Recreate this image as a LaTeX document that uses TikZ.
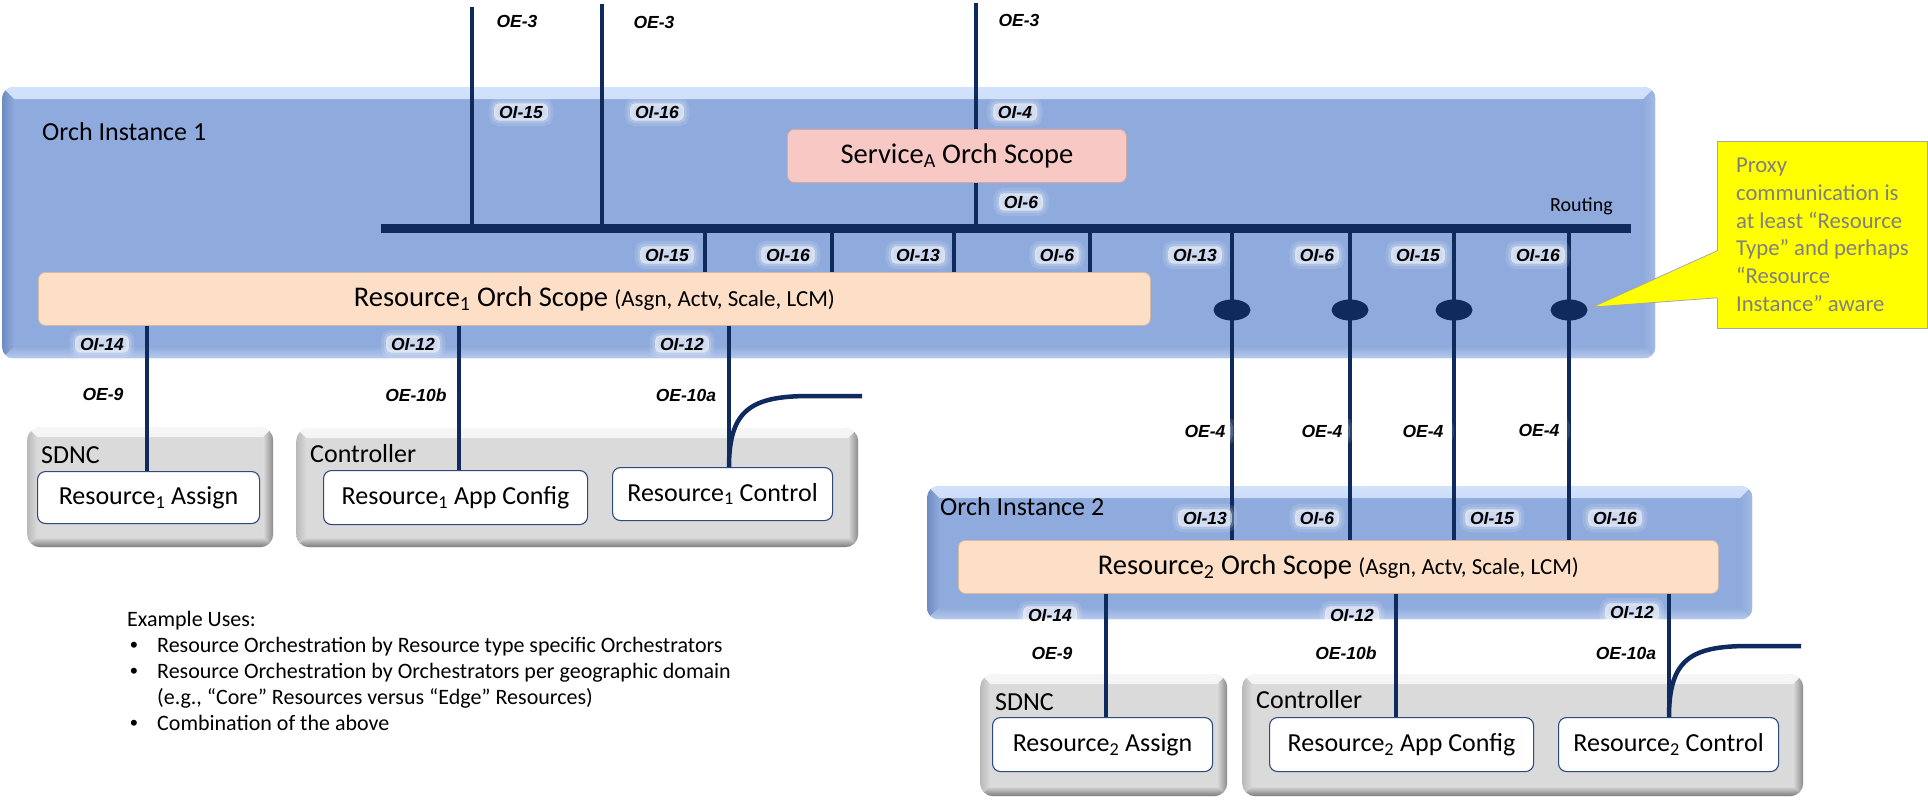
\documentclass[tikz,border=0pt]{standalone}
\usepackage{fontspec}
\setmainfont{Carlito}
\newfontfamily\ifacefont{Liberation Sans}
\usetikzlibrary{shapes.geometric,calc}

\definecolor{navy}{HTML}{0F2A5C}
\definecolor{orchface}{HTML}{8FAADC}
\definecolor{orchhi}{HTML}{D2E2FB}
\definecolor{orchlo}{HTML}{6E8BC2}
\definecolor{orchrt}{HTML}{A3BAE5}
\definecolor{orchbt}{HTML}{B7CAEE}
\definecolor{peach}{HTML}{FDDFC8}
\definecolor{peachrim}{HTML}{D6B9A3}
\definecolor{pinkface}{HTML}{F8C9C4}
\definecolor{pinkrim}{HTML}{D8AAA5}
\definecolor{grayface}{HTML}{DBDADB}
\definecolor{grayhi}{HTML}{F6F6F6}
\definecolor{graylt}{HTML}{B9B9B9}
\definecolor{graydk}{HTML}{8A8A8A}
\definecolor{graybt}{HTML}{7A7A7A}
\definecolor{boxrim}{HTML}{2E4A7D}
\definecolor{notetext}{HTML}{808080}
\definecolor{noterim}{HTML}{A6A6A6}
\definecolor{noteyellow}{HTML}{FFFF00}

% four bevelled edges inside the bounding box of a node
\newcommand\bevelfill[6]{%
  \path[sharp corners, top color=#2, bottom color=#6]
    (path picture bounding box.north west) -- (path picture bounding box.north east)
    -- ([xshift=-#1,yshift=-#1]path picture bounding box.north east)
    -- ([xshift=#1,yshift=-#1]path picture bounding box.north west) -- cycle;
  \path[sharp corners, left color=#3, right color=#6]
    (path picture bounding box.north west)
    -- ([xshift=#1,yshift=-#1]path picture bounding box.north west)
    -- ([xshift=#1,yshift=#1]path picture bounding box.south west)
    -- (path picture bounding box.south west) -- cycle;
  \path[sharp corners, right color=#4, left color=#6]
    (path picture bounding box.north east)
    -- ([xshift=-#1,yshift=-#1]path picture bounding box.north east)
    -- ([xshift=-#1,yshift=#1]path picture bounding box.south east)
    -- (path picture bounding box.south east) -- cycle;
  \path[sharp corners, bottom color=#5, top color=#6]
    (path picture bounding box.south west)
    -- ([xshift=#1,yshift=#1]path picture bounding box.south west)
    -- ([xshift=-#1,yshift=#1]path picture bounding box.south east)
    -- (path picture bounding box.south east) -- cycle;
}

% bullet used in the list of example uses
\newcommand\usebullet{\makebox[27pt][l]{\ifacefont\textbullet}}

\tikzset{
  orchbox/.style={anchor=north west, inner sep=0pt, fill=orchface, rounded corners=11pt,
    path picture={\bevelfill{12pt}{orchhi}{orchlo}{orchrt}{orchbt}{orchface}}},
  hostbox/.style={anchor=north west, inner sep=0pt, fill=grayface, rounded corners=13pt,
    path picture={\bevelfill{10pt}{grayhi}{graylt}{graydk}{graybt}{grayface}}},
  fnbox/.style={anchor=north west, inner sep=0pt, fill=white, draw=boxrim, line width=1.1pt,
    rounded corners=8pt, font=\fontsize{26}{31}\selectfont},
  scopebox/.style={anchor=north west, inner sep=0pt, fill=peach, draw=peachrim, line width=0.8pt,
    rounded corners=7pt, font=\fontsize{28.5}{34}\selectfont},
  title/.style={anchor=base west, inner sep=0pt, font=\fontsize{26}{31}\selectfont},
  uses/.style={anchor=base west, inner sep=0pt, font=\fontsize{22}{26}\selectfont},
  wire/.style={draw=navy, line width=4pt},
  tap/.style={ellipse, fill=navy, minimum width=37pt, minimum height=21pt, inner sep=0pt},
  ilbl/.style={font=\ifacefont\bfseries\itshape\fontsize{17.5}{20}\selectfont, text=black,
    fill=white, fill opacity=0.35, text opacity=1, inner xsep=5pt, inner ysep=2.5pt,
    rounded corners=5pt,
    preaction={fill=white, fill opacity=0.12, draw=white, draw opacity=0.12, line width=11pt},
    preaction={fill=white, fill opacity=0.18, draw=white, draw opacity=0.18, line width=5pt}},
  notebox/.style={anchor=north west, fill=noteyellow, draw=noterim, line width=0.8pt,
    inner sep=0pt, text=notetext, align=left, font=\fontsize{22.7}{27.7}\selectfont},
}

\begin{document}
\begin{tikzpicture}[x=1pt,y=-1pt]
\useasboundingbox (0,0) rectangle (1928,801);

% orchestrator instances
\node[orchbox, minimum width=1653pt, minimum height=271pt] (oi1) at (2,87) {};
\node[orchbox, minimum width=825pt, minimum height=133pt] (oi2) at (927,486) {};
\node[title] (oi1t) at (42,140) {Orch Instance 1};
\node[title] (oi2t) at (940,515) {Orch Instance 2};

% controller hosts
\node[hostbox, minimum width=246pt, minimum height=120pt] (sdnc1) at (27,427) {};
\node[hostbox, minimum width=562pt, minimum height=119pt] (ctl1) at (296,428) {};
\node[hostbox, minimum width=247pt, minimum height=122pt] (sdnc2) at (980,674) {};
\node[hostbox, minimum width=561pt, minimum height=122pt] (ctl2) at (1242,674) {};
\node[title] (sdnc1t) at (41,463) {SDNC};
\node[title] (ctl1t) at (310,462) {Controller};
\node[title] (sdnc2t) at (995,710) {SDNC};
\node[title] (ctl2t) at (1256,708) {Controller};

% resource functions
\node[fnbox, minimum width=222pt, minimum height=52pt] (asg1) at (37,471) {Resource\textsubscript{1} Assign};
\node[fnbox, minimum width=264pt, minimum height=54pt] (cfg1) at (323,470) {Resource\textsubscript{1} App Config};
\node[fnbox, minimum width=220pt, minimum height=53pt] (ctr1) at (612,467) {Resource\textsubscript{1} Control};
\node[fnbox, minimum width=220pt, minimum height=54pt] (asg2) at (992,717) {Resource\textsubscript{2} Assign};
\node[fnbox, minimum width=264pt, minimum height=54pt] (cfg2) at (1269,717) {Resource\textsubscript{2} App Config};
\node[fnbox, minimum width=220pt, minimum height=54pt] (ctr2) at (1558,717) {Resource\textsubscript{2} Control};

% orchestration scopes
\node[scopebox, fill=pinkface, draw=pinkrim, minimum width=339pt, minimum height=53pt] (svc) at (787,129)
  {Service\textsubscript{A} Orch Scope};
\node[scopebox, minimum width=1112pt, minimum height=53pt] (r1) at (38,272)
  {Resource\textsubscript{1} Orch Scope {\fontsize{23}{28}\selectfont(Asgn, Actv, Scale, LCM)}};
\node[scopebox, minimum width=760pt, minimum height=53pt] (r2) at (958,540)
  {Resource\textsubscript{2} Orch Scope {\fontsize{23}{28}\selectfont(Asgn, Actv, Scale, LCM)}};

% routing bus
\node[fill=navy, inner sep=0pt, minimum width=1250pt, minimum height=9pt, anchor=north west] (bus) at (381,224) {};
\node[anchor=base east, inner sep=0pt, font=\fontsize{20}{24}\selectfont] (routing) at (1613,211) {Routing};

% proxy taps
\node[tap] (p1) at (1232,310) {};
\node[tap] (p2) at (1350,310) {};
\node[tap] (p3) at (1454,310) {};
\node[tap] (p4) at (1569,310) {};

% wire positions
\coordinate (oe3a) at (472,7);
\coordinate (oe3b) at (602,4);
\coordinate (oe3c) at (976,3);
\coordinate (xa) at (705,0);
\coordinate (xb) at (832,0);
\coordinate (xc) at (954,0);
\coordinate (xd) at (1090,0);
\coordinate (xe) at (147,0);
\coordinate (xf) at (459,0);
\coordinate (xg) at (729,0);
\coordinate (xh) at (1106,0);
\coordinate (xi) at (1396,0);
\coordinate (xj) at (1669,0);
\coordinate (tail1) at (862,396);
\coordinate (tail2) at (1801,646);

% interfaces
\draw[wire] (oe3a) -- (bus.north -| oe3a);
\draw[wire] (oe3b) -- (bus.north -| oe3b);
\draw[wire] (oe3c) -- (svc.north -| oe3c);
\draw[wire] (svc.south -| oe3c) -- (bus.north -| oe3c);
\foreach \k in {xa,xb,xc,xd} \draw[wire] (bus.south -| \k) -- (r1.north -| \k);
\foreach \k in {p1,p2,p3,p4} \draw[wire] (bus.south -| \k) -- (r2.north -| \k);
\draw[wire] (r1.south -| xe) -- (asg1.north -| xe);
\draw[wire] (r1.south -| xf) -- (cfg1.north -| xf);
\draw[wire] (r1.south -| xg) -- (ctr1.north -| xg);
\draw[wire] (r2.south -| xh) -- (asg2.north -| xh);
\draw[wire] (r2.south -| xi) -- (cfg2.north -| xi);
\draw[wire] (r2.south -| xj) -- (ctr2.north -| xj);
\draw[wire, line width=4.5pt] (ctr1.north -| xg) .. controls +(0,-58) and +(-58,0) .. ([xshift=-52pt]tail1) -- (tail1);
\draw[wire, line width=4.5pt] (ctr2.north -| xj) .. controls +(0,-58) and +(-58,0) .. ([xshift=-52pt]tail2) -- (tail2);

% interface labels
\foreach \x/\y/\t [count=\i] in {
  517/21/OE-3, 654/22/OE-3, 1019/20/OE-3,
  521/112/OI-15, 657/112/OI-16, 1015/112/OI-4, 1021/202/OI-6,
  667/255/OI-15, 788/255/OI-16, 918/255/OI-13, 1057/255/OI-6,
  1195/255/OI-13, 1317/255/OI-6, 1418/255/OI-15, 1538/255/OI-16,
  102/344/OI-14, 413/344/OI-12, 682/344/OI-12,
  103/394/OE-9, 416/395/OE-10b, 686/395/OE-10a,
  1205/431/OE-4, 1322/431/OE-4, 1423/431/OE-4, 1539/430/OE-4,
  1205/518/OI-13, 1317/518/OI-6, 1492/518/OI-15, 1615/518/OI-16,
  1050/615/OI-14, 1352/615/OI-12, 1632/612/OI-12,
  1052/653/OE-9, 1346/653/OE-10b, 1626/653/OE-10a}
  \node[ilbl] (lbl\i) at (\x,\y) {\t};

% proxy note
\node[notebox, minimum width=210pt, minimum height=187pt] (note) at (1717,141)
  {Proxy\\communication is\\at least “Resource\\Type” and perhaps\\“Resource\\Instance” aware};
\coordinate (tip) at ([xshift=5pt,yshift=3pt]p4.east);
\fill[noteyellow] ([xshift=1pt,yshift=31pt]note.south west) -- (tip) -- ([xshift=1pt,yshift=78pt]note.south west) -- cycle;
\draw[noterim, line width=0.8pt] ([yshift=31pt]note.south west) -- (tip) -- ([yshift=78pt]note.south west);

% example uses
\node[uses] (ex0) at (127,626) {Example Uses:};
\node[uses] (ex1) at (130,652) {\usebullet Resource Orchestration by Resource type specific Orchestrators};
\node[uses] (ex2) at (130,678) {\usebullet Resource Orchestration by Orchestrators per geographic domain};
\node[uses] (ex3) at (157,704) {(e.g., “Core” Resources versus “Edge” Resources)};
\node[uses] (ex4) at (130,730) {\usebullet Combination of the above};
\end{tikzpicture}
\end{document}
